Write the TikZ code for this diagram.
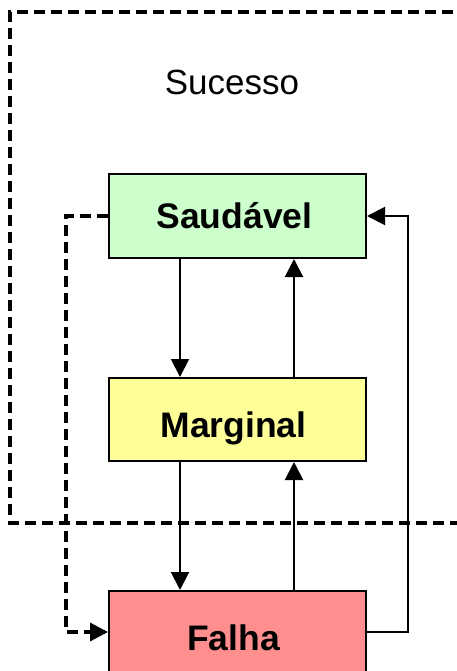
\documentclass[tikz,border=0pt]{standalone}
\usepackage{fontspec}
\setmainfont{Liberation Sans}
\usetikzlibrary{arrows.meta}
\definecolor{cgreen}{HTML}{CCFFCC}
\definecolor{cyellow}{HTML}{FFFF99}
\definecolor{cred}{HTML}{FF8F8F}
\begin{document}
\begin{tikzpicture}[x=1pt,y=-1pt,
  state/.style={draw=black, line width=2pt, minimum width=257pt, inner sep=0pt,
     font=\fontsize{35.5}{40}\selectfont\bfseries, text height=25pt, text depth=0pt},
  arr/.style={line width=2pt, -{Triangle[length=18pt,width=18pt]}},
  dsh/.style={line width=3.2pt, dash pattern=on 11pt off 6pt},
  darr/.style={line width=3.2pt, dash pattern=on 11pt off 6pt, -{Triangle[length=18pt,width=18pt]}}]
\useasboundingbox (0,0) rectangle (457,671);
\clip (0,0) rectangle (457,671);
% success region
\coordinate (r1) at (470,12);
\coordinate (r2) at (10,12);
\coordinate (r3) at (10,523);
\coordinate (r4) at (470,523);
\draw[dsh] (r1) -- (r2) -- (r3) -- (r4);
\node (suc) at (232,82) {\fontsize{35}{40}\selectfont Sucesso};
% states
\node[state, fill=cgreen, minimum height=84pt] (S) at (237.5,216) {Saudável\hspace*{6pt}};
\node[state, fill=cyellow, minimum height=83pt, text height=35pt] (M) at (237.5,419.5) {Marginal\hspace*{8pt}};
\node[state, fill=cred, minimum height=94pt] (F) at (237.5,638) {Falha\hspace*{8pt}};
% helper coordinates
\coordinate (xa) at (180,0);
\coordinate (xb) at (294,0);
\coordinate (xr) at (408,0);
\coordinate (xl) at (66,0);
\coordinate (yf) at (0,632);
% transitions
\draw[arr] (S.south -| xa) -- (M.north -| xa);
\draw[arr] (M.north -| xb) -- (S.south -| xb);
\draw[arr] (M.south -| xa) -- (F.north -| xa);
\draw[arr] (F.north -| xb) -- (M.south -| xb);
\draw[arr] (F.east |- yf) -- (xr |- yf) |- (S.east);
\draw[darr] (S.west) -- (xl |- S.west) |- (F.west |- yf);
\end{tikzpicture}
\end{document}
